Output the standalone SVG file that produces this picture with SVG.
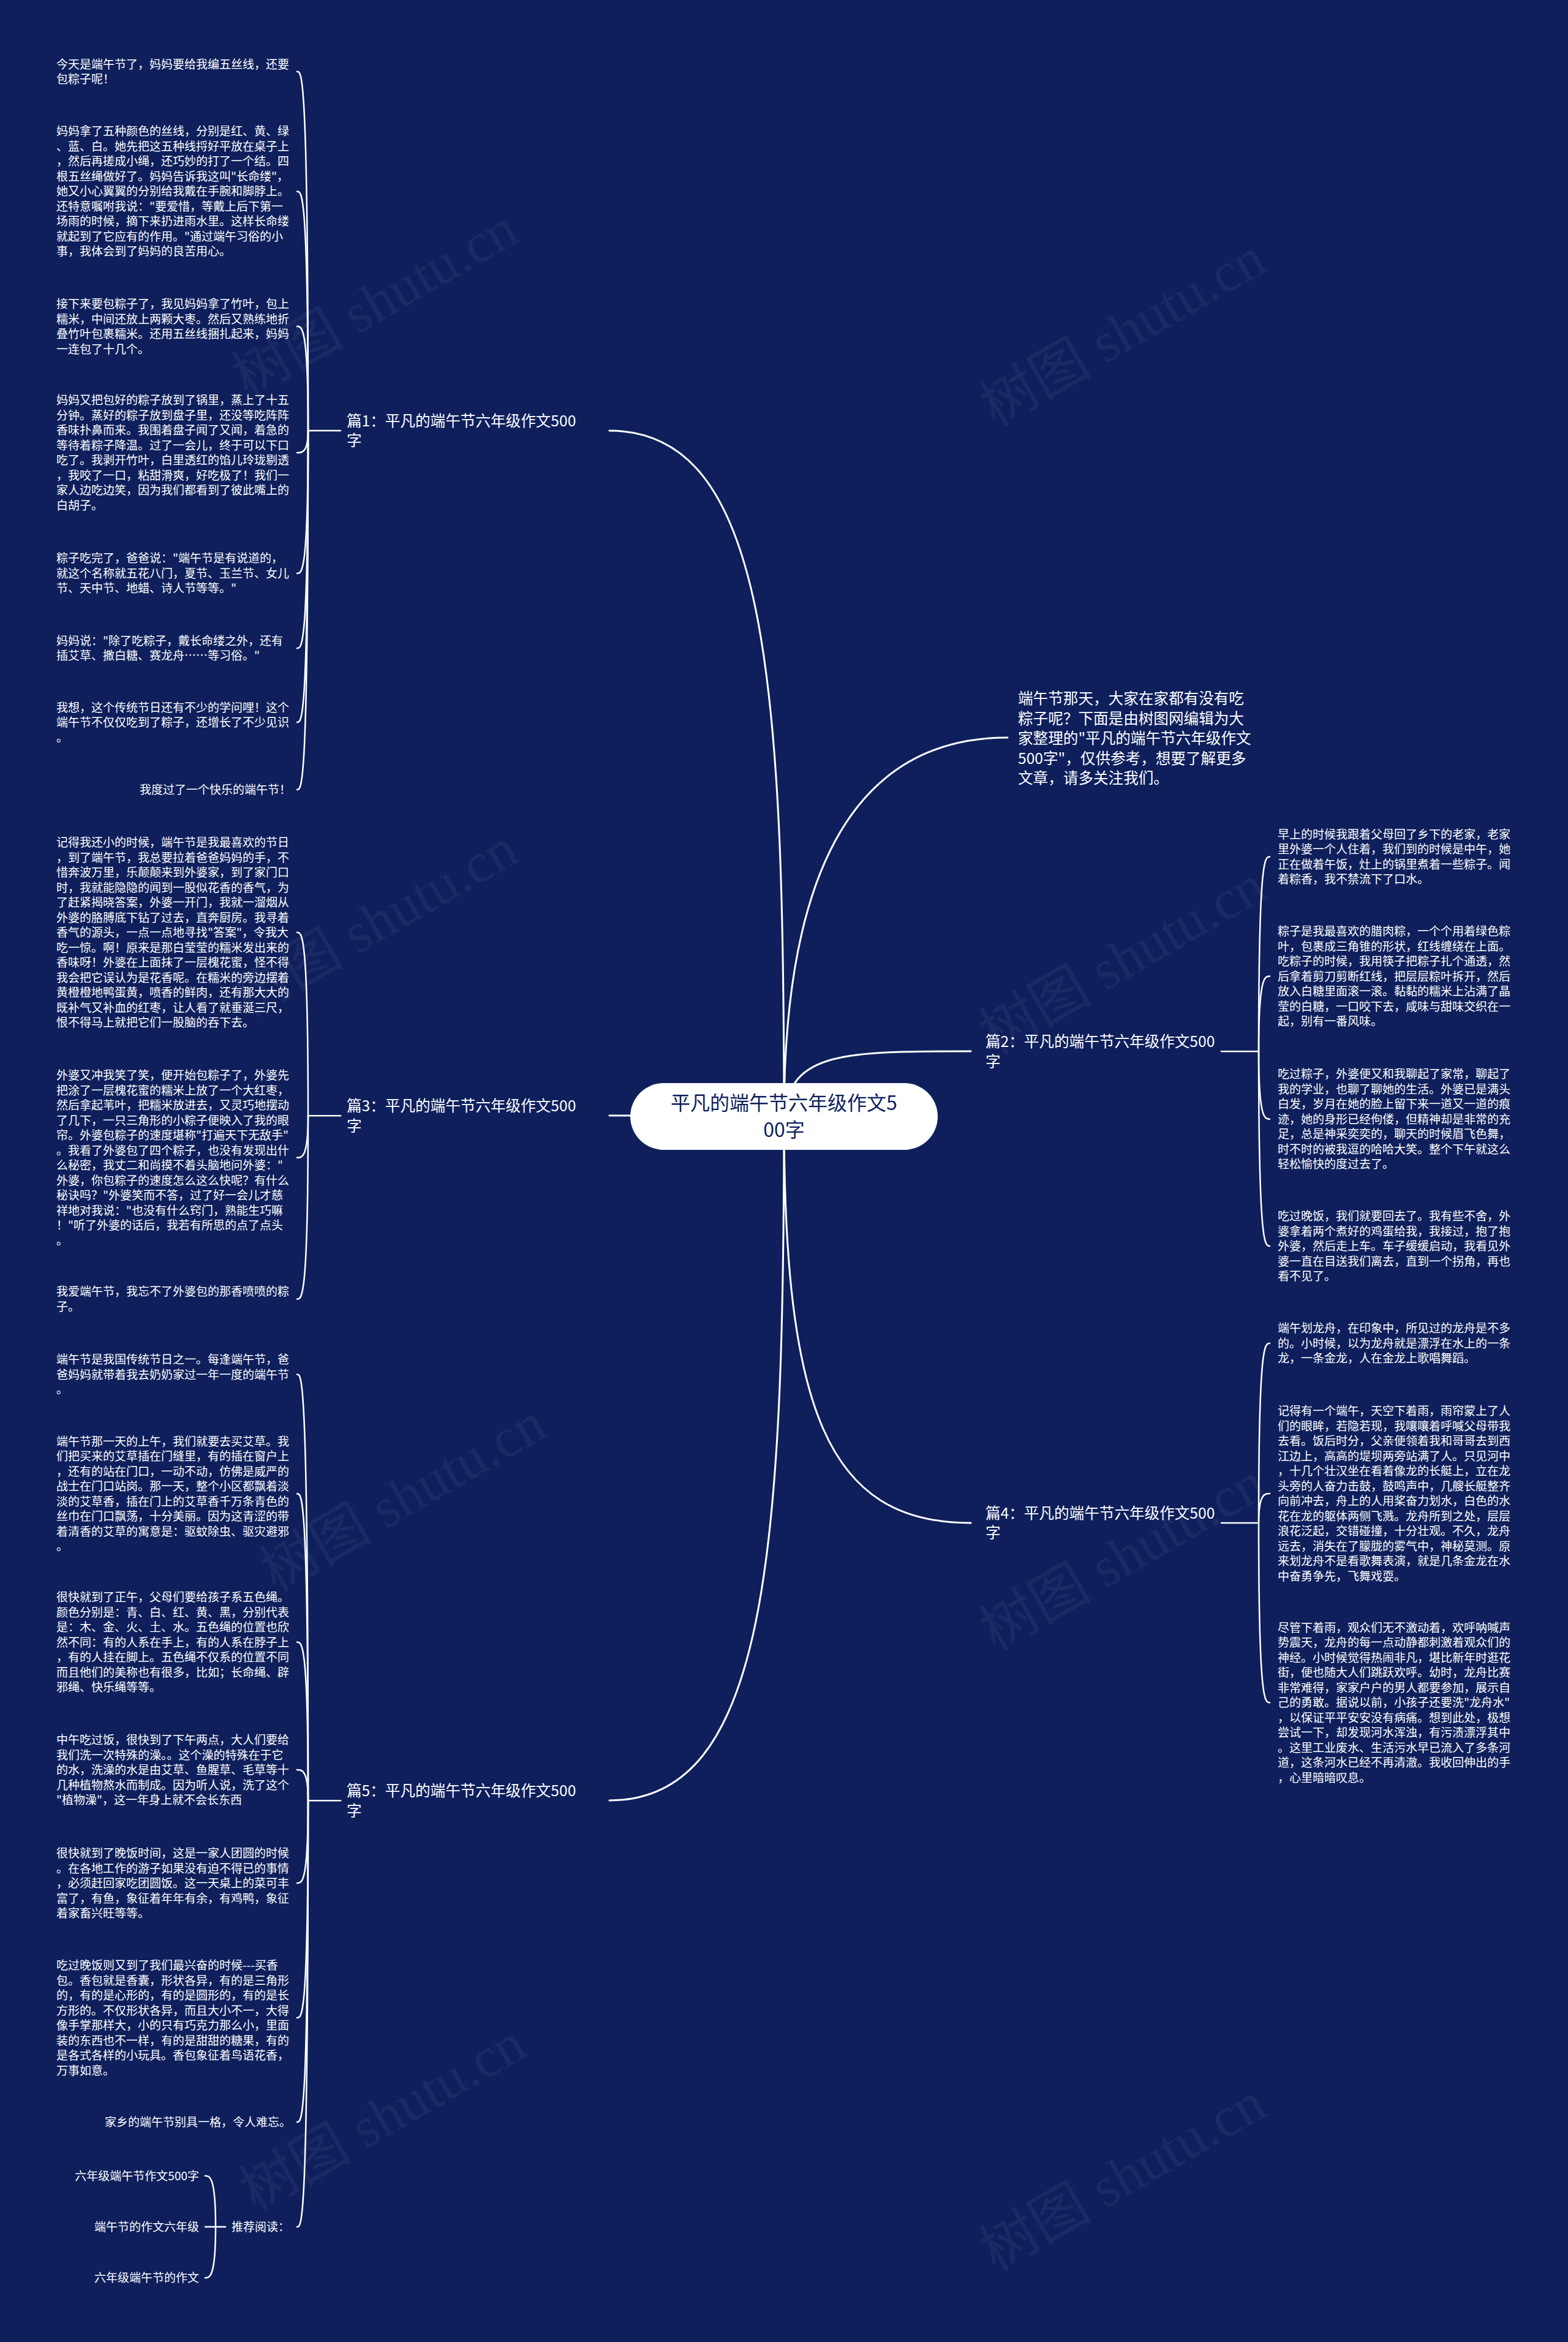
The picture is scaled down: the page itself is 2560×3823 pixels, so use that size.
<svg xmlns="http://www.w3.org/2000/svg" width="2560" height="3823" viewBox="0 0 2560 3823">
<style>
.t{font-family:'Noto Sans CJK SC','Noto Sans',sans-serif;font-size:19px;fill:#ffffff}
.lb{font-family:'Noto Sans CJK SC','Noto Sans',sans-serif;font-size:24.6px;fill:#ffffff}
.e{text-anchor:end}
.c{fill:none;stroke:#ffffff;stroke-width:2.5;stroke-linecap:round}
.m{fill:none;stroke:#ffffff;stroke-width:3;stroke-linecap:round}
.wm{font-family:'Liberation Serif','Noto Sans CJK SC',serif;font-size:92px;fill:#ffffff;fill-opacity:0.05}
</style>
<rect x="0" y="0" width="2560" height="3823" fill="#0e1f5c"/>
<g id="watermarks">
<text class="wm" x="404" y="650" transform="rotate(-30 404 650)">树图 shutu.cn</text>
<text class="wm" x="1625" y="698" transform="rotate(-30 1625 698)">树图 shutu.cn</text>
<text class="wm" x="404" y="1662" transform="rotate(-30 404 1662)">树图 shutu.cn</text>
<text class="wm" x="1625" y="1722" transform="rotate(-30 1625 1722)">树图 shutu.cn</text>
<text class="wm" x="450" y="2600" transform="rotate(-30 450 2600)">树图 shutu.cn</text>
<text class="wm" x="1625" y="2697" transform="rotate(-30 1625 2697)">树图 shutu.cn</text>
<text class="wm" x="417" y="3612" transform="rotate(-30 417 3612)">树图 shutu.cn</text>
<text class="wm" x="1625" y="3709" transform="rotate(-30 1625 3709)">树图 shutu.cn</text>
</g>
<g id="connectors">
<path class="m" d="M1280 1822 C1280 1100,1250 703,995 703"/>
<path class="m" d="M1280 1822 C1180 1822,1100 1821,995 1821"/>
<path class="m" d="M1280 1822 C1280 2544,1250 2939,995 2939"/>
<path class="m" d="M1280 1822 C1280 1450,1380 1204,1645 1204"/>
<path class="m" d="M1280 1822 C1290 1716,1380 1716,1585 1716"/>
<path class="m" d="M1280 1822 C1280 2300,1350 2486,1585 2486"/>
<path class="c" d="M503 702.9 H556"/>
<path class="c" d="M503 702.9 C503 116.75,493 116.75,485 116.75"/>
<path class="c" d="M503 702.9 C503 312.4,493 312.4,485 312.4"/>
<path class="c" d="M503 702.9 C503 532.75,493 532.75,485 532.75"/>
<path class="c" d="M503 702.9 C503 739.05,493 739.05,485 739.05"/>
<path class="c" d="M503 702.9 C503 935.9,493 935.9,485 935.9"/>
<path class="c" d="M503 702.9 C503 1058.15,493 1058.15,485 1058.15"/>
<path class="c" d="M503 702.9 C503 1179.1,493 1179.1,485 1179.1"/>
<path class="c" d="M503 702.9 C503 1289,493 1289,485 1289"/>
<path class="c" d="M503 1821.3 H556"/>
<path class="c" d="M503 1821.3 C503 1522,493 1522,485 1522"/>
<path class="c" d="M503 1821.3 C503 1889.75,493 1889.75,485 1889.75"/>
<path class="c" d="M503 1821.3 C503 2120.55,493 2120.55,485 2120.55"/>
<path class="c" d="M503 2939.25 H556"/>
<path class="c" d="M503 2939.25 C503 2243.5,493 2243.5,485 2243.5"/>
<path class="c" d="M503 2939.25 C503 2438.25,493 2438.25,485 2438.25"/>
<path class="c" d="M503 2939.25 C503 2680.5,493 2680.5,485 2680.5"/>
<path class="c" d="M503 2939.25 C503 2889,493 2889,485 2889"/>
<path class="c" d="M503 2939.25 C503 3074,493 3074,485 3074"/>
<path class="c" d="M503 2939.25 C503 3293.75,493 3293.75,485 3293.75"/>
<path class="c" d="M503 2939.25 C503 3464,493 3464,485 3464"/>
<path class="c" d="M503 2939.25 C503 3635,493 3635,485 3635"/>
<path class="c" d="M352 3635 H368"/>
<path class="c" d="M352 3635 C352 3551.7,342 3551.7,335 3551.7"/>
<path class="c" d="M352 3635 H335"/>
<path class="c" d="M352 3635 C352 3718.3,342 3718.3,335 3718.3"/>
<path class="c" d="M1994 1716.2 H2055"/>
<path class="c" d="M2055 1716.2 C2055 1398.45,2065 1398.45,2073 1398.45"/>
<path class="c" d="M2055 1716.2 C2055 1593.5,2065 1593.5,2073 1593.5"/>
<path class="c" d="M2055 1716.2 C2055 1826.8,2065 1826.8,2073 1826.8"/>
<path class="c" d="M2055 1716.2 C2055 2034,2065 2034,2073 2034"/>
<path class="c" d="M1994 2486 H2055"/>
<path class="c" d="M2055 2486 C2055 2192.8,2065 2192.8,2073 2192.8"/>
<path class="c" d="M2055 2486 C2055 2438.05,2065 2438.05,2073 2438.05"/>
<path class="c" d="M2055 2486 C2055 2779.2,2065 2779.2,2073 2779.2"/>
</g>
<g id="root">
<rect x="1029" y="1768" width="502" height="109" rx="54.5" fill="#ffffff"/>
<text x="1280" y="1812" text-anchor="middle" font-family="'Noto Sans CJK SC','Noto Sans',sans-serif" font-size="32" fill="#0e1f5c">平凡的端午节六年级作文5<tspan x="1280" dy="44">00字</tspan></text>
</g>
<g id="intro">
<text class="lb" x="1662" y="1149">端午节那天，大家在家都有没有吃<tspan x="1662" dy="32.5">粽子呢？下面是由树图网编辑为大</tspan><tspan x="1662" dy="32.5">家整理的"平凡的端午节六年级作文</tspan><tspan x="1662" dy="32.5">500字"，仅供参考，想要了解更多</tspan><tspan x="1662" dy="32.5">文章，请多关注我们。</tspan></text>
</g>
<g id="b1">
<text class="lb" x="566" y="695.7">篇1：平凡的端午节六年级作文500<tspan x="566" dy="32.5">字</tspan></text>
</g>
<g id="b1-1"><text class="t" x="92" y="111.5">今天是端午节了，妈妈要给我编五丝线，还要<tspan x="92" dy="24.5">包粽子呢！</tspan></text></g>
<g id="b1-2"><text class="t" x="92" y="221.4">妈妈拿了五种颜色的丝线，分别是红、黄、绿<tspan x="92" dy="24.5">、蓝、白。她先把这五种线捋好平放在桌子上</tspan><tspan x="92" dy="24.5">，然后再搓成小绳，还巧妙的打了一个结。四</tspan><tspan x="92" dy="24.5">根五丝绳做好了。妈妈告诉我这叫"长命缕"，</tspan><tspan x="92" dy="24.5">她又小心翼翼的分别给我戴在手腕和脚脖上。</tspan><tspan x="92" dy="24.5">还特意嘱咐我说："要爱惜，等戴上后下第一</tspan><tspan x="92" dy="24.5">场雨的时候，摘下来扔进雨水里。这样长命缕</tspan><tspan x="92" dy="24.5">就起到了它应有的作用。"通过端午习俗的小</tspan><tspan x="92" dy="24.5">事，我体会到了妈妈的良苦用心。</tspan></text></g>
<g id="b1-3"><text class="t" x="92" y="503">接下来要包粽子了，我见妈妈拿了竹叶，包上<tspan x="92" dy="24.5">糯米，中间还放上两颗大枣。然后又熟练地折</tspan><tspan x="92" dy="24.5">叠竹叶包裹糯米。还用五丝线捆扎起来，妈妈</tspan><tspan x="92" dy="24.5">一连包了十几个。</tspan></text></g>
<g id="b1-4"><text class="t" x="92" y="660.3">妈妈又把包好的粽子放到了锅里，蒸上了十五<tspan x="92" dy="24.5">分钟。蒸好的粽子放到盘子里，还没等吃阵阵</tspan><tspan x="92" dy="24.5">香味扑鼻而来。我围着盘子闻了又闻，着急的</tspan><tspan x="92" dy="24.5">等待着粽子降温。过了一会儿，终于可以下口</tspan><tspan x="92" dy="24.5">吃了。我剥开竹叶，白里透红的馅儿玲珑剔透</tspan><tspan x="92" dy="24.5">，我咬了一口，粘甜滑爽，好吃极了！我们一</tspan><tspan x="92" dy="24.5">家人边吃边笑，因为我们都看到了彼此嘴上的</tspan><tspan x="92" dy="24.5">白胡子。</tspan></text></g>
<g id="b1-5"><text class="t" x="92" y="918.4">粽子吃完了，爸爸说："端午节是有说道的，<tspan x="92" dy="24.5">就这个名称就五花八门，夏节、玉兰节、女儿</tspan><tspan x="92" dy="24.5">节、天中节、地蜡、诗人节等等。"</tspan></text></g>
<g id="b1-6"><text class="t" x="92" y="1052.9">妈妈说："除了吃粽子，戴长命缕之外，还有<tspan x="92" dy="24.5">插艾草、撒白糖、赛龙舟……等习俗。"</tspan></text></g>
<g id="b1-7"><text class="t" x="92" y="1161.6">我想，这个传统节日还有不少的学问哩！这个<tspan x="92" dy="24.5">端午节不仅仅吃到了粽子，还增长了不少见识</tspan><tspan x="92" dy="24.5">。</tspan></text></g>
<g id="b1-8"><text class="t e" x="475" y="1296">我度过了一个快乐的端午节！</text></g>
<g id="b3">
<text class="lb" x="566" y="1814">篇3：平凡的端午节六年级作文500<tspan x="566" dy="32.5">字</tspan></text>
</g>
<g id="b3-1"><text class="t" x="92" y="1382">记得我还小的时候，端午节是我最喜欢的节日<tspan x="92" dy="24.5">，到了端午节，我总要拉着爸爸妈妈的手，不</tspan><tspan x="92" dy="24.5">惜奔波万里，乐颠颠来到外婆家，到了家门口</tspan><tspan x="92" dy="24.5">时，我就能隐隐的闻到一股似花香的香气，为</tspan><tspan x="92" dy="24.5">了赶紧揭晓答案，外婆一开门，我就一溜烟从</tspan><tspan x="92" dy="24.5">外婆的胳膊底下钻了过去，直奔厨房。我寻着</tspan><tspan x="92" dy="24.5">香气的源头，一点一点地寻找"答案"，令我大</tspan><tspan x="92" dy="24.5">吃一惊。啊！原来是那白莹莹的糯米发出来的</tspan><tspan x="92" dy="24.5">香味呀！外婆在上面抹了一层槐花蜜，怪不得</tspan><tspan x="92" dy="24.5">我会把它误认为是花香呢。在糯米的旁边摆着</tspan><tspan x="92" dy="24.5">黄橙橙地鸭蛋黄，喷香的鲜肉，还有那大大的</tspan><tspan x="92" dy="24.5">既补气又补血的红枣，让人看了就垂涎三尺，</tspan><tspan x="92" dy="24.5">恨不得马上就把它们一股脑的吞下去。</tspan></text></g>
<g id="b3-2"><text class="t" x="92" y="1762">外婆又冲我笑了笑，便开始包粽子了，外婆先<tspan x="92" dy="24.5">把涂了一层槐花蜜的糯米上放了一个大红枣，</tspan><tspan x="92" dy="24.5">然后拿起苇叶，把糯米放进去，又灵巧地摆动</tspan><tspan x="92" dy="24.5">了几下，一只三角形的小粽子便映入了我的眼</tspan><tspan x="92" dy="24.5">帘。外婆包粽子的速度堪称"打遍天下无敌手"</tspan><tspan x="92" dy="24.5">。我看了外婆包了四个粽子，也没有发现出什</tspan><tspan x="92" dy="24.5">么秘密，我丈二和尚摸不着头脑地问外婆："</tspan><tspan x="92" dy="24.5">外婆，你包粽子的速度怎么这么快呢？有什么</tspan><tspan x="92" dy="24.5">秘诀吗？"外婆笑而不答，过了好一会儿才慈</tspan><tspan x="92" dy="24.5">祥地对我说："也没有什么窍门，熟能生巧嘛</tspan><tspan x="92" dy="24.5">！"听了外婆的话后，我若有所思的点了点头</tspan><tspan x="92" dy="24.5">。</tspan></text></g>
<g id="b3-3"><text class="t" x="92" y="2115.3">我爱端午节，我忘不了外婆包的那香喷喷的粽<tspan x="92" dy="24.5">子。</tspan></text></g>
<g id="b5">
<text class="lb" x="566" y="2932">篇5：平凡的端午节六年级作文500<tspan x="566" dy="32.5">字</tspan></text>
</g>
<g id="b5-1"><text class="t" x="92" y="2226">端午节是我国传统节日之一。每逢端午节，爸<tspan x="92" dy="24.5">爸妈妈就带着我去奶奶家过一年一度的端午节</tspan><tspan x="92" dy="24.5">。</tspan></text></g>
<g id="b5-2"><text class="t" x="92" y="2359.5">端午节那一天的上午，我们就要去买艾草。我<tspan x="92" dy="24.5">们把买来的艾草插在门缝里，有的插在窗户上</tspan><tspan x="92" dy="24.5">，还有的站在门口，一动不动，仿佛是威严的</tspan><tspan x="92" dy="24.5">战士在门口站岗。那一天，整个小区都飘着淡</tspan><tspan x="92" dy="24.5">淡的艾草香，插在门上的艾草香千万条青色的</tspan><tspan x="92" dy="24.5">丝巾在门口飘荡，十分美丽。因为这青涩的带</tspan><tspan x="92" dy="24.5">着清香的艾草的寓意是：驱蚊除虫、驱灾避邪</tspan><tspan x="92" dy="24.5">。</tspan></text></g>
<g id="b5-3"><text class="t" x="92" y="2614">很快就到了正午，父母们要给孩子系五色绳。<tspan x="92" dy="24.5">颜色分别是：青、白、红、黄、黑，分别代表</tspan><tspan x="92" dy="24.5">是：木、金、火、土、水。五色绳的位置也欣</tspan><tspan x="92" dy="24.5">然不同：有的人系在手上，有的人系在脖子上</tspan><tspan x="92" dy="24.5">，有的人挂在脚上。五色绳不仅系的位置不同</tspan><tspan x="92" dy="24.5">而且他们的美称也有很多，比如；长命绳、辟</tspan><tspan x="92" dy="24.5">邪绳、快乐绳等等。</tspan></text></g>
<g id="b5-4"><text class="t" x="92" y="2847">中午吃过饭，很快到了下午两点，大人们要给<tspan x="92" dy="24.5">我们洗一次特殊的澡。。这个澡的特殊在于它</tspan><tspan x="92" dy="24.5">的水，洗澡的水是由艾草、鱼腥草、毛草等十</tspan><tspan x="92" dy="24.5">几种植物熬水而制成。因为听人说，洗了这个</tspan><tspan x="92" dy="24.5">"植物澡"，这一年身上就不会长东西</tspan></text></g>
<g id="b5-5"><text class="t" x="92" y="3032">很快就到了晚饭时间，这是一家人团圆的时候<tspan x="92" dy="24.5">。在各地工作的游子如果没有迫不得已的事情</tspan><tspan x="92" dy="24.5">，必须赶回家吃团圆饭。这一天桌上的菜可丰</tspan><tspan x="92" dy="24.5">富了，有鱼，象征着年年有余，有鸡鸭，象征</tspan><tspan x="92" dy="24.5">着家畜兴旺等等。</tspan></text></g>
<g id="b5-6"><text class="t" x="92" y="3215">吃过晚饭则又到了我们最兴奋的时候---买香<tspan x="92" dy="24.5">包。香包就是香囊，形状各异，有的是三角形</tspan><tspan x="92" dy="24.5">的，有的是心形的，有的是圆形的，有的是长</tspan><tspan x="92" dy="24.5">方形的。不仅形状各异，而且大小不一，大得</tspan><tspan x="92" dy="24.5">像手掌那样大，小的只有巧克力那么小，里面</tspan><tspan x="92" dy="24.5">装的东西也不一样，有的是甜甜的糖果，有的</tspan><tspan x="92" dy="24.5">是各式各样的小玩具。香包象征着鸟语花香，</tspan><tspan x="92" dy="24.5">万事如意。</tspan></text></g>
<g id="b5-7"><text class="t e" x="475" y="3471">家乡的端午节别具一格，令人难忘。</text></g>
<g id="b5-8"><text class="t" x="378" y="3642">推荐阅读：</text></g>
<g id="r1"><text class="t e" x="325" y="3558.7">六年级端午节作文500字</text></g>
<g id="r2"><text class="t e" x="325" y="3642">端午节的作文六年级</text></g>
<g id="r3"><text class="t e" x="325" y="3725.3">六年级端午节的作文</text></g>
<g id="b2">
<text class="lb" x="1609" y="1709">篇2：平凡的端午节六年级作文500<tspan x="1609" dy="32.5">字</tspan></text>
</g>
<g id="b2-1"><text class="t" x="2086" y="1368.7">早上的时候我跟着父母回了乡下的老家，老家<tspan x="2086" dy="24.5">里外婆一个人住着，我们到的时候是中午，她</tspan><tspan x="2086" dy="24.5">正在做着午饭，灶上的锅里煮着一些粽子。闻</tspan><tspan x="2086" dy="24.5">着粽香，我不禁流下了口水。</tspan></text></g>
<g id="b2-2"><text class="t" x="2086" y="1527">粽子是我最喜欢的腊肉粽，一个个用着绿色粽<tspan x="2086" dy="24.5">叶，包裹成三角锥的形状，红线缠绕在上面。</tspan><tspan x="2086" dy="24.5">吃粽子的时候，我用筷子把粽子扎个通透，然</tspan><tspan x="2086" dy="24.5">后拿着剪刀剪断红线，把层层粽叶拆开，然后</tspan><tspan x="2086" dy="24.5">放入白糖里面滚一滚。黏黏的糯米上沾满了晶</tspan><tspan x="2086" dy="24.5">莹的白糖，一口咬下去，咸味与甜味交织在一</tspan><tspan x="2086" dy="24.5">起，别有一番风味。</tspan></text></g>
<g id="b2-3"><text class="t" x="2086" y="1760.3">吃过粽子，外婆便又和我聊起了家常，聊起了<tspan x="2086" dy="24.5">我的学业，也聊了聊她的生活。外婆已是满头</tspan><tspan x="2086" dy="24.5">白发，岁月在她的脸上留下来一道又一道的痕</tspan><tspan x="2086" dy="24.5">迹，她的身形已经佝偻，但精神却是非常的充</tspan><tspan x="2086" dy="24.5">足，总是神采奕奕的，聊天的时候眉飞色舞，</tspan><tspan x="2086" dy="24.5">时不时的被我逗的哈哈大笑。整个下午就这么</tspan><tspan x="2086" dy="24.5">轻松愉快的度过去了。</tspan></text></g>
<g id="b2-4"><text class="t" x="2086" y="1992">吃过晚饭，我们就要回去了。我有些不舍，外<tspan x="2086" dy="24.5">婆拿着两个煮好的鸡蛋给我，我接过，抱了抱</tspan><tspan x="2086" dy="24.5">外婆，然后走上车。车子缓缓启动，我看见外</tspan><tspan x="2086" dy="24.5">婆一直在目送我们离去，直到一个拐角，再也</tspan><tspan x="2086" dy="24.5">看不见了。</tspan></text></g>
<g id="b4">
<text class="lb" x="1609" y="2478.8">篇4：平凡的端午节六年级作文500<tspan x="1609" dy="32.5">字</tspan></text>
</g>
<g id="b4-1"><text class="t" x="2086" y="2175.3">端午划龙舟，在印象中，所见过的龙舟是不多<tspan x="2086" dy="24.5">的。小时候，以为龙舟就是漂浮在水上的一条</tspan><tspan x="2086" dy="24.5">龙，一条金龙，人在金龙上歌唱舞蹈。</tspan></text></g>
<g id="b4-2"><text class="t" x="2086" y="2310.3">记得有一个端午，天空下着雨，雨帘蒙上了人<tspan x="2086" dy="24.5">们的眼眸，若隐若现，我嚷嚷着呼喊父母带我</tspan><tspan x="2086" dy="24.5">去看。饭后时分，父亲便领着我和哥哥去到西</tspan><tspan x="2086" dy="24.5">江边上，高高的堤坝两旁站满了人。只见河中</tspan><tspan x="2086" dy="24.5">，十几个壮汉坐在看着像龙的长艇上，立在龙</tspan><tspan x="2086" dy="24.5">头旁的人奋力击鼓，鼓鸣声中，几艘长艇整齐</tspan><tspan x="2086" dy="24.5">向前冲去，舟上的人用桨奋力划水，白色的水</tspan><tspan x="2086" dy="24.5">花在龙的躯体两侧飞溅。龙舟所到之处，层层</tspan><tspan x="2086" dy="24.5">浪花泛起，交错碰撞，十分壮观。不久，龙舟</tspan><tspan x="2086" dy="24.5">远去，消失在了朦胧的雾气中，神秘莫测。原</tspan><tspan x="2086" dy="24.5">来划龙舟不是看歌舞表演，就是几条金龙在水</tspan><tspan x="2086" dy="24.5">中奋勇争先，飞舞戏耍。</tspan></text></g>
<g id="b4-3"><text class="t" x="2086" y="2663.7">尽管下着雨，观众们无不激动着，欢呼呐喊声<tspan x="2086" dy="24.5">势震天，龙舟的每一点动静都刺激着观众们的</tspan><tspan x="2086" dy="24.5">神经。小时候觉得热闹非凡，堪比新年时逛花</tspan><tspan x="2086" dy="24.5">街，便也随大人们跳跃欢呼。幼时，龙舟比赛</tspan><tspan x="2086" dy="24.5">非常难得，家家户户的男人都要参加，展示自</tspan><tspan x="2086" dy="24.5">己的勇敢。据说以前，小孩子还要洗"龙舟水"</tspan><tspan x="2086" dy="24.5">，以保证平平安安没有病痛。想到此处，极想</tspan><tspan x="2086" dy="24.5">尝试一下，却发现河水浑浊，有污渍漂浮其中</tspan><tspan x="2086" dy="24.5">。这里工业废水、生活污水早已流入了多条河</tspan><tspan x="2086" dy="24.5">道，这条河水已经不再清澈。我收回伸出的手</tspan><tspan x="2086" dy="24.5">，心里暗暗叹息。</tspan></text></g>
</svg>
